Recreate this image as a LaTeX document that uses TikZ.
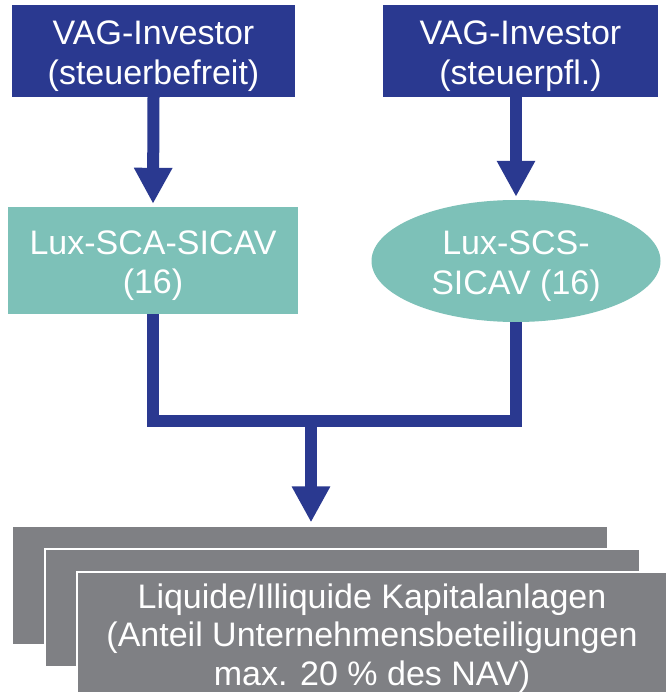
\documentclass[tikz,border=0pt]{standalone}
\usepackage{fontspec}
\setmainfont{Liberation Sans}
\usetikzlibrary{shapes.geometric,arrows.meta}
\definecolor{vagblue}{HTML}{2A3990}
\definecolor{luxteal}{HTML}{7DC1B8}
\definecolor{assetgray}{HTML}{7F8084}
\tikzset{
  lbl/.style={text=white,align=center,inner sep=0pt,font=\fontsize{34}{39.5}\selectfont},
  investor/.style={rectangle,fill=vagblue,inner sep=0pt},
  fundbox/.style={rectangle,fill=luxteal,inner sep=0pt},
  fundell/.style={ellipse,fill=luxteal,inner sep=0pt},
  asset/.style={rectangle,fill=assetgray,draw=white,line width=1.2pt,inner sep=0pt},
  flow/.style={draw=vagblue,line width=12pt},
  flowarrow/.style={flow,-{Triangle[length=36pt,width=36pt]},shorten >=3pt},
}
\begin{document}
\begin{tikzpicture}[x=1pt,y=-1pt]
\useasboundingbox (0,0) rectangle (665,692);
\fill[white] (0,0) rectangle (665,692);
% shapes
\node[investor,minimum width=283pt,minimum height=92pt] (tl) at (153.5,51) {};
\node[investor,minimum width=275pt,minimum height=92pt] (tr) at (520.5,51) {};
\node[fundbox,minimum width=290pt,minimum height=107pt] (sca) at (153,260.5) {};
\node[fundell,minimum width=289pt,minimum height=122pt] (scs) at (516,261) {};
\node[asset,minimum width=596pt,minimum height=119pt] (g1) at (310,585.5) {};
\node[asset,minimum width=595pt,minimum height=118pt] (g2) at (342.5,608) {};
\node[asset,minimum width=590pt,minimum height=122pt] (g3) at (372,633) {};
% texts
\node[lbl] (tltext) at ([yshift=-5pt]tl.center) {VAG-Investor\\(steuerbefreit)};
\node[lbl] (trtext) at ([yshift=-5pt]tr.center) {VAG-Investor\\(steuerpfl.)};
\node[lbl] (scatext) at ([yshift=-5pt]sca.center) {Lux-SCA-SICAV\\(16)};
\node[lbl] (scstext) at ([yshift=-5pt]scs.center) {Lux-SCS-\\SICAV (16)};
\node[lbl,font=\fontsize{34}{38.5}\selectfont] (g3text) at ([yshift=-5pt]g3.center) {Liquide/Illiquide Kapitalanlagen\\(Anteil Unternehmensbeteiligungen\\max. 20 \% des NAV)};
\coordinate (j) at (311,421);
% connectors
\draw[flowarrow] (tl.south) -- (sca.north);
\draw[flowarrow] (tr.south -| scs.north) -- (scs.north);
\draw[flow] (sca.south) |- (j) -| (scs.south);
\draw[flowarrow] (j) -- (j |- g1.north);
\end{tikzpicture}
\end{document}
